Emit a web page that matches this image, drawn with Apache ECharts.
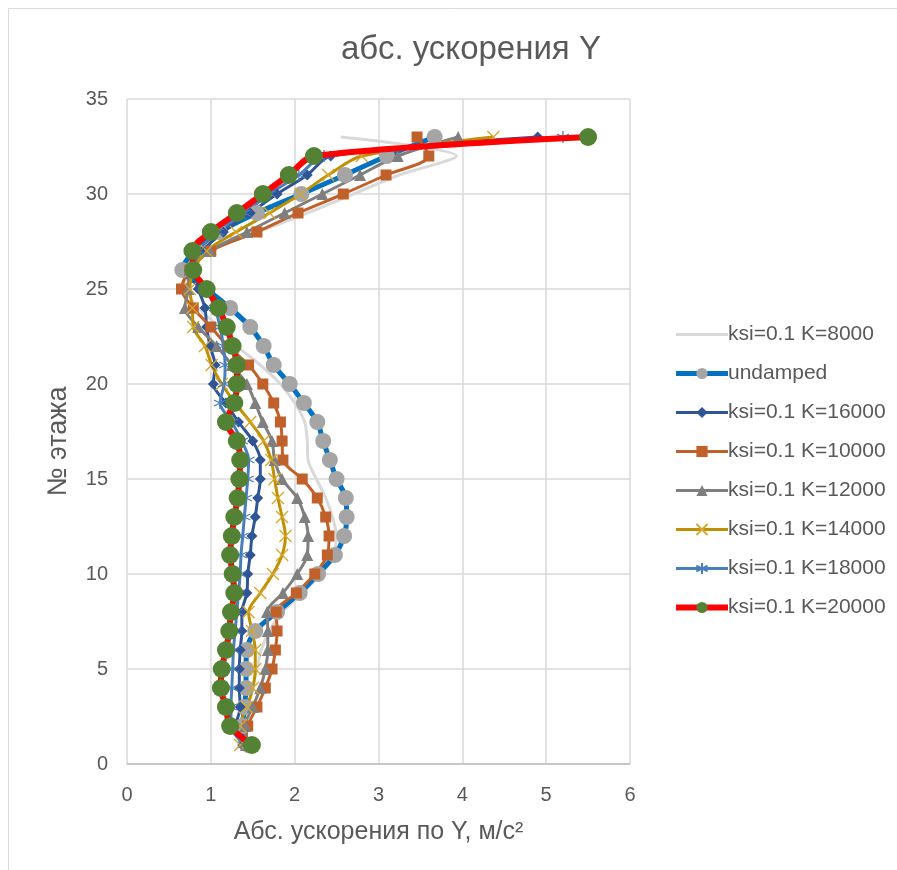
<!DOCTYPE html>
<html>
<head>
<meta charset="utf-8">
<script src="https://cdn.jsdelivr.net/npm/echarts@6/dist/echarts.min.js"></script>
<style>
  html, body { margin: 0; padding: 0; background: #fff; }
  #chart { width: 897px; height: 870px; }
</style>
</head>
<body>
<div id="chart"></div>
<script>
// этажи
const floors = [1, 2, 3, 4, 5, 6, 7, 8, 9, 10, 11, 12, 13, 14, 15, 16, 17, 18, 19, 20, 21, 22, 23, 24, 25, 26, 27, 28, 29, 30, 31, 32, 33]

// абс. ускорения по Y, м/с2 (этаж 1 .. 33)
const k8000 = [1.40, 1.40, 1.45, 1.50, 1.55, 1.60, 1.70, 1.85, 2.10, 2.30, 2.45, 2.50, 2.45, 2.37, 2.26, 2.16, 2.15, 2.12, 2.00, 1.83, 1.59, 1.31, 1.10, 0.85, 0.70, 0.70, 0.90, 1.55, 2.15, 2.70, 3.25, 3.93, 2.55]
const undamped = [1.45, 1.38, 1.40, 1.42, 1.42, 1.43, 1.53, 1.79, 2.06, 2.28, 2.48, 2.59, 2.62, 2.61, 2.50, 2.42, 2.34, 2.27, 2.11, 1.94, 1.75, 1.63, 1.47, 1.23, 0.95, 0.66, 0.80, 1.10, 1.55, 2.08, 2.60, 3.10, 3.67]
const k16000 = [1.38, 1.30, 1.35, 1.34, 1.34, 1.35, 1.37, 1.37, 1.43, 1.44, 1.47, 1.49, 1.53, 1.56, 1.59, 1.59, 1.50, 1.33, 1.18, 1.03, 1.05, 0.99, 0.95, 0.93, 0.85, 0.78, 0.90, 1.15, 1.47, 1.79, 2.15, 2.43, 4.90]
const k10000 = [1.42, 1.44, 1.55, 1.65, 1.73, 1.77, 1.79, 1.78, 2.02, 2.24, 2.39, 2.41, 2.37, 2.27, 2.09, 1.86, 1.85, 1.83, 1.75, 1.62, 1.45, 1.20, 1.00, 0.79, 0.65, 0.75, 1.00, 1.55, 2.04, 2.58, 3.09, 3.60, 3.46]
const k12000 = [1.42, 1.41, 1.50, 1.59, 1.65, 1.68, 1.68, 1.67, 1.86, 2.03, 2.15, 2.16, 2.12, 2.03, 1.85, 1.76, 1.73, 1.62, 1.53, 1.43, 1.25, 1.07, 0.85, 0.69, 0.73, 0.75, 0.99, 1.43, 1.88, 2.33, 2.78, 3.23, 3.95]
const k14000 = [1.35, 1.35, 1.43, 1.50, 1.53, 1.53, 1.49, 1.45, 1.59, 1.74, 1.85, 1.89, 1.85, 1.80, 1.76, 1.72, 1.63, 1.47, 1.29, 1.13, 1.01, 0.93, 0.79, 0.78, 0.75, 0.80, 0.95, 1.30, 1.70, 2.07, 2.40, 2.80, 4.37]
const k18000 = [1.40, 1.24, 1.24, 1.25, 1.26, 1.27, 1.29, 1.31, 1.33, 1.35, 1.36, 1.38, 1.40, 1.42, 1.44, 1.45, 1.37, 1.25, 1.11, 1.16, 1.17, 1.15, 1.11, 1.05, 0.95, 0.80, 0.85, 1.08, 1.40, 1.70, 2.05, 2.35, 5.20]
const k20000 = [1.49, 1.23, 1.18, 1.12, 1.13, 1.18, 1.22, 1.24, 1.28, 1.26, 1.23, 1.25, 1.28, 1.32, 1.34, 1.35, 1.31, 1.18, 1.28, 1.31, 1.31, 1.26, 1.19, 1.09, 0.95, 0.79, 0.78, 1.00, 1.31, 1.62, 1.93, 2.23, 5.50]

const xTicks = [0, 1, 2, 3, 4, 5, 6]

const crossPath = 'path://M0,0 L10,10 M10,0 L0,10'
const starPath = 'path://M5,0 L5,10 M0,2.5 L10,7.5 M0,7.5 L10,2.5'

const pairs = (vals) => vals.map((v, i) => [v, floors[i]])

const textColor = '#595959'
const fontFam = '"Liberation Sans", Arial, sans-serif'

const makeSeries = (name, vals, cfg) => ({
  name: name,
  type: 'line',
  data: pairs(vals),
  smooth: 0.3,
  symbol: cfg.symbol || 'none',
  symbolSize: cfg.size || 0,
  showSymbol: cfg.show !== false,
  lineStyle: { color: cfg.color, width: cfg.width },
  itemStyle: cfg.item || { color: cfg.mark || cfg.color, borderWidth: 0 },
  emphasis: { disabled: true },
  z: cfg.z || 2
})

const chart = echarts.init(document.getElementById('chart'))

const option = {
  backgroundColor: '#fff',
  animation: false,
  textStyle: { fontFamily: fontFam },
  graphic: [{
    type: 'rect',
    shape: { x: 8.5, y: 8.5, width: 920, height: 900 },
    style: { fill: 'none', stroke: '#D9D9D9', lineWidth: 1 },
    silent: true
  }],
  title: {
    text: 'абс. ускорения Y',
    left: 336,
    top: 28,
    textStyle: { fontSize: 33, fontWeight: 'normal', color: textColor, fontFamily: fontFam }
  },
  legend: {
    orient: 'vertical',
    left: 668,
    top: 319,
    itemGap: 18,
    itemWidth: 52,
    itemHeight: 14,
    textStyle: { fontSize: 21, color: textColor, fontFamily: fontFam, padding: [0, 0, 0, -5] },
    data: [
      { name: 'ksi=0.1 K=8000', lineStyle: { width: 3 } },
      { name: 'undamped', lineStyle: { width: 5 } },
      { name: 'ksi=0.1 K=16000', lineStyle: { width: 3 } },
      { name: 'ksi=0.1 K=10000', lineStyle: { width: 3 } },
      { name: 'ksi=0.1 K=12000', lineStyle: { width: 3 } },
      { name: 'ksi=0.1 K=14000', lineStyle: { width: 3 } },
      { name: 'ksi=0.1 K=18000', lineStyle: { width: 3 } },
      { name: 'ksi=0.1 K=20000', lineStyle: { width: 6 } }
    ]
  },
  grid: { left: 127, right: 267, top: 99, bottom: 106 },
  xAxis: {
    type: 'value',
    min: xTicks[0],
    max: xTicks[xTicks.length - 1],
    interval: 1,
    name: 'Абс. ускорения по Y, м/с²',
    nameLocation: 'middle',
    nameGap: 56,
    nameTextStyle: { fontSize: 25, color: textColor, fontFamily: fontFam },
    axisLine: { show: true, lineStyle: { color: '#BFBFBF', width: 1.5 } },
    axisTick: { show: false },
    axisLabel: { fontSize: 20, color: textColor, margin: 21, fontFamily: fontFam },
    splitLine: { show: true, lineStyle: { color: '#D9D9D9', width: 1.5 } }
  },
  yAxis: {
    type: 'value',
    min: 0,
    max: 35,
    interval: 5,
    name: '№ этажа',
    nameLocation: 'middle',
    nameRotate: 90,
    nameGap: 55,
    nameTextStyle: { fontSize: 27, color: textColor, fontFamily: fontFam, padding: [0, 0, 0, -20] },
    axisLine: { show: false },
    axisTick: { show: false },
    axisLabel: { fontSize: 20, color: textColor, margin: 19, fontFamily: fontFam },
    splitLine: { show: true, lineStyle: { color: '#D9D9D9', width: 1.5 } }
  },
  series: [
    makeSeries('ksi=0.1 K=8000', k8000, {
      color: '#D9D9D9', width: 3, symbol: 'circle', size: 1, show: false,
      item: { color: 'rgba(255,255,255,0)', borderWidth: 0 }
    }),
    makeSeries('undamped', undamped, { color: '#0070C0', width: 5, symbol: 'circle', size: 16, mark: '#A5A5A5' }),
    makeSeries('ksi=0.1 K=16000', k16000, { color: '#2F5597', width: 3, symbol: 'diamond', size: 11 }),
    makeSeries('ksi=0.1 K=10000', k10000, { color: '#C0602A', width: 3, symbol: 'rect', size: 11 }),
    makeSeries('ksi=0.1 K=12000', k12000, { color: '#7F7F7F', width: 3, symbol: 'triangle', size: 12 }),
    makeSeries('ksi=0.1 K=14000', k14000, {
      color: '#BF9000', width: 3, symbol: crossPath, size: 12,
      item: { color: 'none', borderColor: '#D4A72C', borderWidth: 1.3 }
    }),
    makeSeries('ksi=0.1 K=18000', k18000, {
      color: '#4A7EBB', width: 3, symbol: starPath, size: 12,
      item: { color: 'none', borderColor: '#4A7EBB', borderWidth: 1.3 }
    }),
    makeSeries('ksi=0.1 K=20000', k20000, { color: '#FF0000', width: 6, symbol: 'circle', size: 18, mark: '#548235', z: 5 })
  ]
}

chart.setOption(option)
</script>
</body>
</html>
